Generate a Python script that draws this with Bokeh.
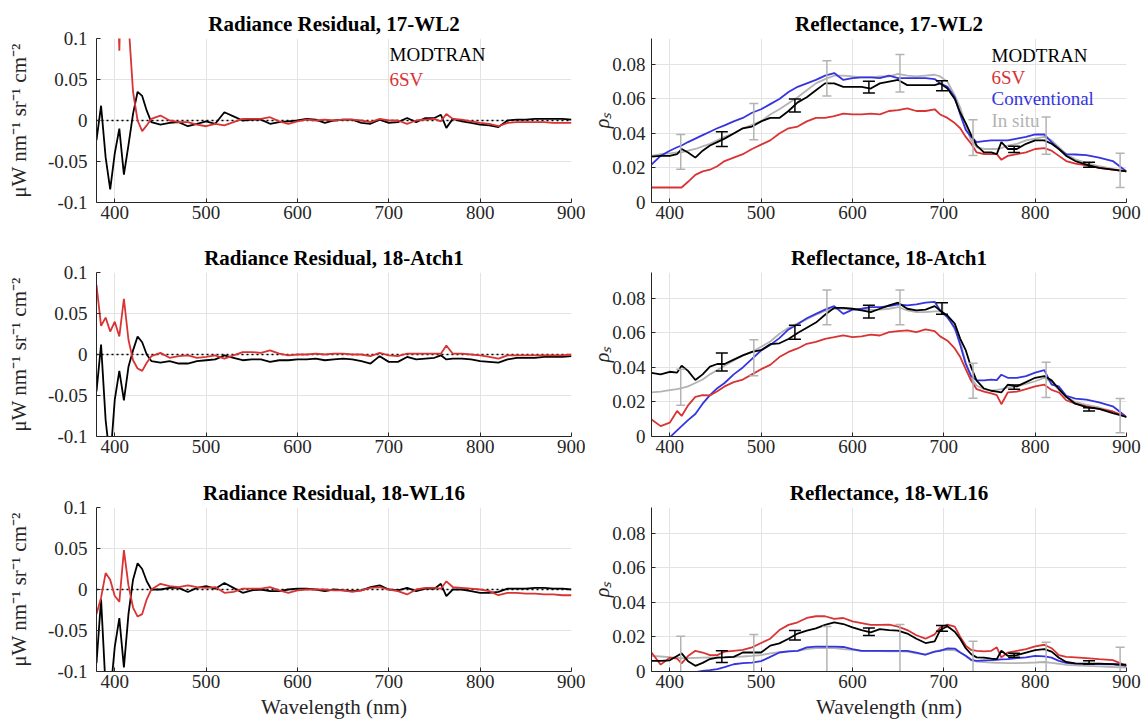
from bokeh.plotting import figure
from bokeh.layouts import column, row
from bokeh.models import FixedTicker, Span, Label
from bokeh.embed import file_html
from bokeh.resources import INLINE

FONT = "Liberation Serif"
C_MOD = "#000000"
C_6SV = "#d93333"
C_CONV = "#3535e0"
C_INS = "#b3b3b3"
TXT = "#262626"

# ---------------- data ----------------
wl_res = [380, 385, 390, 395, 400, 405, 410, 415, 420, 425, 430, 435, 440,
          450, 460, 470, 480, 490, 500, 510, 520, 530, 540, 550, 560, 570, 580, 590, 600,
          610, 620, 630, 640, 650, 660, 670, 680, 690, 700, 710, 720, 730, 740, 750,
          757, 763,
          770, 780, 790, 800, 810, 820, 830, 840, 850, 860, 870, 880, 890, 900]

res1_modtran = [-0.024, 0.018, -0.045, -0.084, -0.040, -0.010, -0.066, -0.030, 0.008, 0.035, 0.030, 0.012, -0.002,
                -0.005, -0.003, -0.002, -0.007, -0.004, -0.001, -0.004, 0.010, 0.005, 0.000, 0.001, 0.001, -0.004, -0.002, -0.001, 0.000,
                0.002, 0.001, -0.003, 0.000, 0.001, 0.001, -0.003, -0.004, 0.001, -0.003, -0.002, 0.003, -0.002, 0.003, 0.003,
                0.007, -0.009,
                0.002, -0.001, -0.003, -0.005, -0.006, -0.008, 0.000, 0.001, 0.001, 0.002, 0.002, 0.002, 0.002, 0.001]
res1_6sv = [0.3, 0.3, 0.3, 0.3, 0.3, 0.085, 0.3, 0.12, 0.035, 0.000, -0.013, -0.006, 0.002,
            0.006, 0.000, -0.002, -0.002, -0.005, -0.007, -0.004, -0.006, -0.002, 0.002, 0.002, 0.002, 0.004, -0.001, -0.004, -0.001,
            0.001, 0.000, 0.001, 0.000, 0.001, 0.001, 0.000, -0.002, 0.002, 0.000, 0.000, -0.004, 0.000, 0.001, 0.002,
            -0.001, 0.008,
            0.002, 0.001, -0.001, -0.003, -0.004, -0.007, -0.003, -0.002, -0.002, -0.002, -0.002, -0.003, -0.003, -0.003]

res2_modtran = [-0.045, 0.012, -0.080, -0.130, -0.055, -0.020, -0.056, -0.015, 0.005, 0.022, 0.015, 0.000, -0.008,
                -0.010, -0.008, -0.011, -0.011, -0.008, -0.007, -0.006, -0.001, -0.004, -0.007, -0.006, -0.006, -0.009, -0.007, -0.007, -0.006,
                -0.006, -0.005, -0.007, -0.006, -0.005, -0.006, -0.008, -0.011, -0.002, -0.009, -0.009, -0.003, -0.006, -0.005, -0.004,
                -0.001, -0.006,
                -0.005, -0.005, -0.006, -0.008, -0.009, -0.010, -0.006, -0.004, -0.004, -0.004, -0.003, -0.003, -0.003, -0.002]
res2_6sv = [0.085, 0.035, 0.045, 0.028, 0.040, 0.022, 0.068, 0.018, -0.007, -0.017, -0.020, -0.010, -0.002,
            0.002, -0.004, -0.002, -0.001, -0.004, -0.003, -0.001, -0.005, -0.001, 0.003, 0.003, 0.002, 0.005, 0.001, -0.001, 0.000,
            0.000, 0.001, 0.000, 0.001, 0.001, 0.000, 0.000, -0.002, 0.002, -0.001, -0.002, 0.001, 0.001, 0.001, 0.001,
            0.001, 0.011,
            0.001, 0.001, 0.000, -0.001, -0.003, -0.005, -0.001, -0.001, -0.001, -0.001, -0.001, -0.001, -0.001, 0.000]

res3_modtran = [-0.090, -0.012, -0.120, -0.130, -0.070, -0.035, -0.095, -0.030, 0.012, 0.032, 0.025, 0.010, 0.000,
                0.000, 0.002, 0.002, -0.003, 0.002, 0.004, 0.001, 0.008, 0.002, -0.004, -0.001, 0.000, -0.002, -0.002, 0.000, 0.001,
                0.001, 0.000, -0.002, 0.000, -0.001, -0.002, -0.001, 0.003, 0.005, 0.000, -0.001, 0.002, -0.002, 0.001, 0.001,
                0.007, -0.008,
                0.000, 0.000, -0.002, -0.004, -0.004, -0.003, 0.001, 0.001, 0.001, 0.002, 0.002, 0.001, 0.001, 0.000]
res3_6sv = [-0.030, -0.010, 0.020, 0.012, -0.008, -0.015, 0.048, 0.005, -0.022, -0.033, -0.030, -0.012, 0.000,
            0.007, 0.004, 0.003, 0.005, 0.003, 0.002, 0.003, -0.004, -0.003, 0.001, 0.001, 0.001, 0.003, -0.001, -0.004, -0.001,
            0.000, 0.000, 0.000, -0.001, -0.001, -0.003, -0.001, 0.002, 0.003, 0.000, -0.002, -0.006, 0.000, 0.002, 0.002,
            0.001, 0.010,
            0.003, 0.002, 0.001, 0.000, -0.002, -0.007, -0.004, -0.004, -0.005, -0.005, -0.006, -0.006, -0.007, -0.007]

wl_ref = [380, 390, 400, 408, 413, 420, 428, 436, 444, 452, 460, 470, 480, 490, 500,
          510, 520, 530, 540, 550, 560, 570, 580, 590, 600, 610, 620, 630, 640, 650, 660, 670, 680, 690,
          696, 704, 712, 718, 724, 730, 736, 744, 752, 758, 763, 770, 780, 790, 800,
          810, 818, 826, 834, 844, 856, 870, 885, 900]

ref1_modtran = [.0266, .027, .027, .028, .031, .029, .026, .030, .033, .035, .037, .040, .043, .044, .047,
                .049, .049, .053, .058, .061, .065, .069, .069, .067, .067, .067, .066, .069, .070, .071, .068, .068, .068, .068,
                .069, .066, .060, .052, .046, .039, .033, .029, .029, .028, .035, .031, .031, .034, .036,
                .036, .034, .031, .027, .024, .022, .020, .019, .018]
ref1_6sv = [.0087, .0087, .0087, .0087, .0087, .012, .016, .018, .019, .021, .024, .026, .028, .031, .0335,
            .036, .040, .043, .044, .047, .049, .049, .050, .0515, .051, .051, .0515, .051, .053, .0535, .0545, .053, .053, .054,
            .051, .049, .046, .043, .038, .034, .029, .028, .028, .028, .0247, .027, .028, .029, .031,
            .0315, .030, .027, .024, .0225, .0215, .020, .019, .018]
ref1_conv = [.022, .027, .030, .032, .033, .035, .037, .039, .041, .043, .0447, .047, .049, .052, .054,
             .057, .060, .064, .067, .069, .071, .0735, .075, .071, .072, .0725, .0725, .072, .0735, .072, .072, .072, .072, .0715,
             .069, .067, .061, .051, .042, .038, .035, .0355, .036, .036, .036, .036, .037, .038, .0394,
             .0395, .035, .031, .028, .0278, .0275, .026, .024, .018]
ref1_insitu = [.027, .028, .0285, .029, .029, .030, .031, .0325, .034, .036, .038, .040, .043, .045, .047,
               .051, .054, .0575, .061, .065, .069, .0715, .0735, .0735, .073, .0725, .0725, .073, .073, .0745, .0735, .073, .0735, .074,
               .073, .070, .062, .055, .044, .036, .032, .031, .031, .031, .0315, .033, .034, .036, .037,
               .038, .036, .032, .028, .025, .023, .021, .0195, .018]

ref2_modtran = [.0368, .036, .0375, .037, .041, .038, .0327, .036, .0405, .042, .042, .0445, .047, .049, .050,
                .0535, .054, .0565, .060, .063, .066, .0705, .0745, .0745, .074, .073, .072, .074, .076, .0775, .074, .073, .0735, .0755,
                .073, .070, .0654, .0566, .050, .040, .0323, .0278, .0265, .026, .0255, .030, .029, .0315, .034,
                .035, .0325, .0275, .023, .019, .017, .016, .0135, .0113]
ref2_6sv = [.0099, .006, .008, .0148, .0119, .018, .023, .024, .0238, .0262, .029, .0315, .033, .036, .039,
            .0415, .046, .049, .051, .0537, .0548, .0566, .0575, .0586, .0576, .058, .059, .0585, .0605, .061, .0615, .0605, .062, .061,
            .058, .0555, .051, .046, .039, .0323, .0274, .026, .025, .024, .0187, .0255, .026, .0275, .029,
            .030, .027, .0255, .021, .019, .0175, .016, .0145, .0113]
ref2_conv = [-.011, -.006, -.0005, .0035, .006, .0095, .013, .019, .024, .028, .031, .036, .040, .045, .0498,
             .053, .057, .062, .065, .0685, .071, .0735, .0755, .071, .0735, .074, .075, .075, .0755, .0765, .076, .0765, .0775, .078,
             .073, .069, .063, .053, .042, .035, .0325, .0325, .033, .0327, .0358, .034, .034, .035, .037,
             .0385, .030, .029, .0236, .022, .0213, .0198, .0175, .0113]
ref2_insitu = [.0255, .026, .0268, .0275, .028, .029, .031, .033, .036, .0385, .041, .044, .047, .049, .052,
               .055, .0595, .063, .0655, .068, .0705, .0728, .074, .074, .0737, .0735, .0733, .0735, .074, .075, .073, .072, .072, .0725,
               .0725, .070, .062, .055, .043, .034, .0294, .0275, .0265, .027, .0275, .0285, .029, .0305, .032,
               .034, .0315, .027, .023, .020, .0183, .0168, .0145, .0113]

ref3_modtran = [.0062, .0062, .0065, .009, .0105, .006, .0033, .005, .0072, .008, .0082, .0085, .011, .011, .011,
                .015, .0163, .019, .022, .0237, .025, .027, .0285, .0275, .0256, .024, .0227, .0245, .024, .0237, .022, .019, .0165, .0175,
                .024, .0262, .023, .0188, .0135, .010, .0082, .008, .0075, .0072, .012, .0091, .0095, .011, .0124,
                .013, .0115, .008, .0055, .0047, .0046, .0046, .0043, .0039]
ref3_6sv = [.011, .004, .008, .0075, .0047, .009, .012, .011, .0095, .0095, .0115, .012, .0125, .014, .0165,
            .019, .024, .027, .0285, .031, .032, .032, .0305, .031, .029, .028, .027, .027, .0272, .026, .024, .021, .019, .0215,
            .0255, .0272, .026, .020, .015, .0125, .012, .0117, .012, .014, .0082, .011, .012, .013, .0145,
            .0155, .0135, .0095, .0085, .0082, .0078, .0072, .0066, .0033]
ref3_conv = [-.006, -.005, -.004, -.003, -.0025, -.0015, -.0003, .0003, .0008, .0014, .0025, .0042, .0049, .0051, .006,
             .0085, .011, .0117, .012, .014, .0144, .0144, .0144, .0142, .013, .012, .012, .012, .012, .012, .012, .011, .0097, .0115,
             .012, .0134, .0133, .011, .0091, .0068, .0062, .0064, .0066, .0068, .007, .0072, .0077, .0082, .009,
             .0088, .008, .0062, .005, .0046, .0044, .0043, .0042, .0033]
ref3_insitu = [.0091, .0087, .0083, .008, .0078, .0078, .0079, .008, .0081, .0082, .0083, .0085, .0087, .009, .0095,
               .0105, .0112, .0117, .012, .013, .0135, .0136, .0135, .013, .0125, .012, .012, .0118, .0117, .0117, .0115, .0105, .0101, .0115,
               .0124, .0125, .0124, .011, .009, .0065, .0058, .0055, .0052, .005, .005, .0048, .0048, .005, .0052,
               .0055, .005, .0045, .0038, .0035, .0033, .003, .0026, .0023]

eb_mod_wl = [457, 537, 618, 698, 777, 859]
eb1_mod_lo = [.0324, .0524, .0635, .0647, .0290, .0204]
eb1_mod_hi = [.0410, .0600, .0703, .0705, .0326, .0233]
eb2_mod_lo = [.0380, .0563, .0687, .0708, .0274, .0148]
eb2_mod_hi = [.0483, .0644, .0761, .0775, .0298, .0167]
eb3_mod_lo = [.0052, .0183, .0208, .0233, .0082, .0043]
eb3_mod_hi = [.0120, .0237, .0252, .0266, .0105, .0062]

eb_ins_wl = [412, 492, 572, 652, 732, 812, 893]
eb1_ins_lo = [.0192, .0363, .0617, .0640, .0272, .0280, .0087]
eb1_ins_hi = [.0394, .0573, .0821, .0858, .0480, .0495, .0285]
eb2_ins_lo = [.0181, .0352, .0648, .0648, .0222, .0226, .0021]
eb2_ins_hi = [.0390, .0560, .0849, .0849, .0424, .0430, .0220]
eb3_ins_lo = [-.005, -.004, -.001, -.004, -.005, -.006, -.011]
eb3_ins_hi = [.0204, .0214, .0260, .0272, .0175, .0169, .0140]

x_ticks = [400, 500, 600, 700, 800, 900]
res_ticks = [-0.1, -0.05, 0, 0.05, 0.1]
res_tick_labels = ["-0.1", "-0.05", "0", "0.05", "0.1"]
ref_ticks = [0, 0.02, 0.04, 0.06, 0.08]
ref_tick_labels = ["0", "0.02", "0.04", "0.06", "0.08"]

titles = ["17-WL2", "18-Atch1", "18-WL16"]
res_label = "\u03bcW nm\u207b\u00b9 sr\u207b\u00b9 cm\u207b\u00b2"
ref_label = "\u03c1\u209b"
x_label = "Wavelength (nm)"

XR = (380, 900)
RES_YR = (-0.1, 0.1)
REF_YR = (0, 0.095)

FW, FH = 475, 164
# (top border, bottom border) per row
ROW_BORDERS = [(38, 32), (38, 34), (37, 56)]


def base_fig(yr, left, right, top, bottom, title):
    p = figure(frame_width=FW, frame_height=FH, x_range=XR, y_range=yr,
               output_backend="svg", toolbar_location=None,
               min_border_left=left, min_border_right=right,
               min_border_top=top, min_border_bottom=bottom,
               title=title)
    p.outline_line_color = None
    p.background_fill_color = "white"
    p.border_fill_color = "white"
    p.title.align = "center"
    p.title.text_font = FONT
    p.title.text_font_size = "21px"
    p.title.text_font_style = "bold"
    p.title.text_color = "black"
    p.title.standoff = 6
    for ax in (p.xaxis[0], p.yaxis[0]):
        ax.axis_line_color = TXT
        ax.axis_line_width = 1
        ax.major_tick_line_color = TXT
        ax.major_tick_in = 4
        ax.major_tick_out = 0
        ax.minor_tick_line_color = None
        ax.major_label_text_font = FONT
        ax.major_label_text_font_size = "19px"
        ax.major_label_text_color = TXT
        ax.axis_label_text_font = FONT
        ax.axis_label_text_font_size = "21px"
        ax.axis_label_text_font_style = "normal"
        ax.axis_label_text_color = TXT
    p.xaxis.ticker = FixedTicker(ticks=x_ticks)
    p.xaxis.major_label_standoff = 3
    p.grid.grid_line_color = "#e3e3e3"
    p.grid.grid_line_width = 1
    p.xgrid.ticker = FixedTicker(ticks=x_ticks)
    return p


def res_fig(i):
    top, bottom = ROW_BORDERS[i]
    p = base_fig(RES_YR, 96, 14, top, bottom, "Radiance Residual, " + titles[i])
    p.yaxis.ticker = FixedTicker(ticks=res_ticks)
    p.ygrid.ticker = FixedTicker(ticks=res_ticks)
    p.yaxis.major_label_overrides = dict(zip(res_ticks, res_tick_labels))
    p.yaxis.axis_label = res_label
    p.yaxis.major_label_standoff = 9
    p.yaxis.axis_label_standoff = 14
    p.add_layout(Span(location=0, dimension="width", line_color="black",
                      line_dash="2 3", line_width=1.6, level="underlay"))
    return p


def ref_fig(i):
    top, bottom = ROW_BORDERS[i]
    p = base_fig(REF_YR, 66, 15, top, bottom, "Reflectance, " + titles[i])
    p.yaxis.ticker = FixedTicker(ticks=ref_ticks)
    p.ygrid.ticker = FixedTicker(ticks=ref_ticks)
    p.yaxis.major_label_overrides = dict(zip(ref_ticks, ref_tick_labels))
    p.yaxis.major_label_standoff = 6
    p.yaxis.axis_label = ref_label
    p.yaxis.axis_label_text_font_style = "italic"
    p.yaxis.axis_label_text_font_size = "20px"
    p.yaxis.axis_label_standoff = -4
    return p


def errbars(p, wl, lo, hi, color, cap):
    p.segment(x0=wl, y0=lo, x1=wl, y1=hi, line_color=color, line_width=1.5)
    p.scatter(x=wl, y=lo, marker="dash", size=cap, line_color=color, line_width=1.5)
    p.scatter(x=wl, y=hi, marker="dash", size=cap, line_color=color, line_width=1.5)


res_sets = [(res1_modtran, res1_6sv), (res2_modtran, res2_6sv), (res3_modtran, res3_6sv)]
ref_sets = [(ref1_modtran, ref1_6sv, ref1_conv, ref1_insitu),
            (ref2_modtran, ref2_6sv, ref2_conv, ref2_insitu),
            (ref3_modtran, ref3_6sv, ref3_conv, ref3_insitu)]
eb_sets = [(eb1_mod_lo, eb1_mod_hi, eb1_ins_lo, eb1_ins_hi),
           (eb2_mod_lo, eb2_mod_hi, eb2_ins_lo, eb2_ins_hi),
           (eb3_mod_lo, eb3_mod_hi, eb3_ins_lo, eb3_ins_hi)]

LW = 1.8
rows = []
for i in range(3):
    pl = res_fig(i)
    m, s = res_sets[i]
    pl.line(wl_res, m, line_color=C_MOD, line_width=LW)
    pl.line(wl_res, s, line_color=C_6SV, line_width=LW)

    pr = ref_fig(i)
    m, s, c, ins = ref_sets[i]
    pr.line(wl_ref, ins, line_color=C_INS, line_width=LW)
    pr.line(wl_ref, c, line_color=C_CONV, line_width=LW)
    pr.line(wl_ref, s, line_color=C_6SV, line_width=LW)
    pr.line(wl_ref, m, line_color=C_MOD, line_width=LW)
    mlo, mhi, ilo, ihi = eb_sets[i]
    errbars(pr, eb_ins_wl, ilo, ihi, C_INS, 9)
    errbars(pr, eb_mod_wl, mlo, mhi, C_MOD, 12)

    if i == 2:
        pl.xaxis.axis_label = x_label
        pr.xaxis.axis_label = x_label
        pl.xaxis.axis_label_standoff = 4
        pr.xaxis.axis_label_standoff = 4

    if i == 0:
        for txt, col, yy in [("MODTRAN", C_MOD, 0.0805), ("6SV", C_6SV, 0.050)]:
            pl.add_layout(Label(x=700.8, y=yy, text=txt, text_color=col, text_font=FONT,
                                text_font_size="19px", text_baseline="middle", text_align="left"))
        for txt, col, yy in [("MODTRAN", C_MOD, 0.0851), ("6SV", C_6SV, 0.0724),
                             ("Conventional", C_CONV, 0.0602), ("In situ", C_INS, 0.0475)]:
            pr.add_layout(Label(x=752.2, y=yy, text=txt, text_color=col, text_font=FONT,
                                text_font_size="19px", text_baseline="middle", text_align="left"))
    rows.append(row(pl, pr))

layout = column(*rows)
open("out.html", "w").write(file_html(layout, INLINE))
